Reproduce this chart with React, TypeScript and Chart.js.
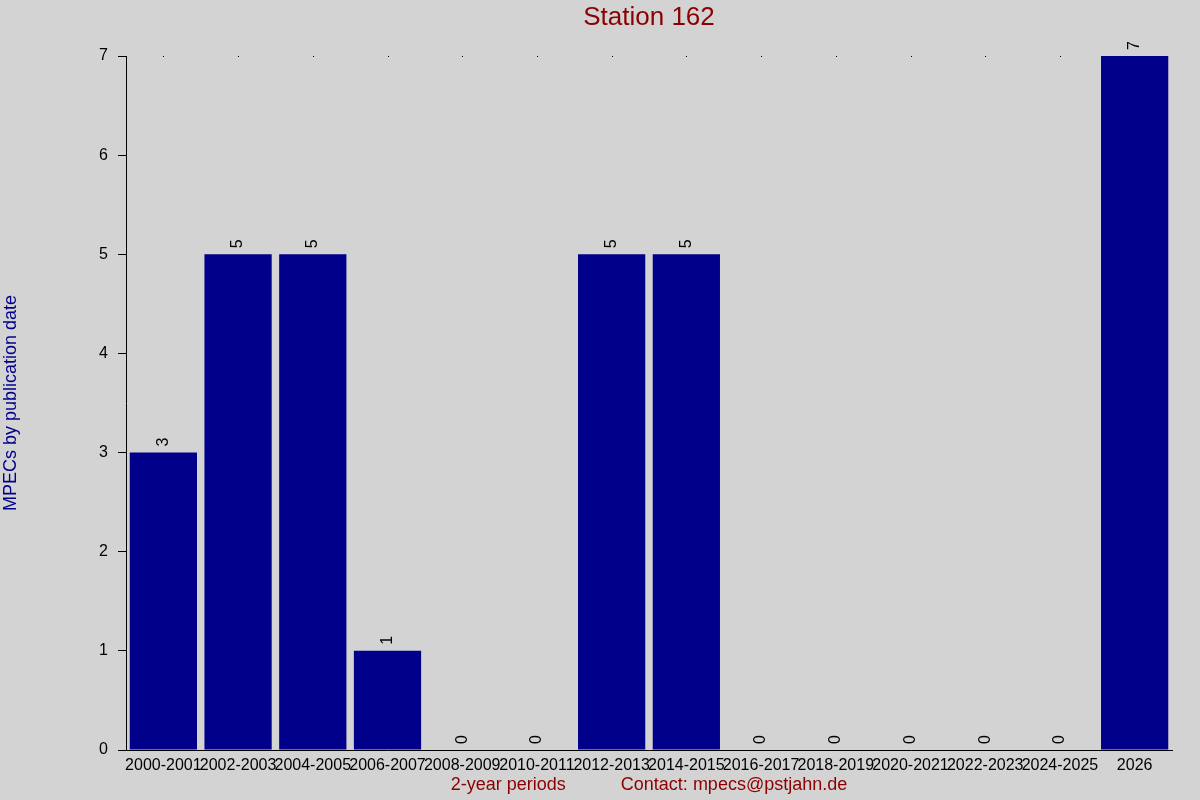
import { useEffect, useRef } from 'react'
import { Chart, registerables, type ChartConfiguration, type Plugin } from 'chart.js'

Chart.register(...registerables)

const periods = [
  '2000-2001', '2002-2003', '2004-2005', '2006-2007', '2008-2009', '2010-2011', '2012-2013',
  '2014-2015', '2016-2017', '2018-2019', '2020-2021', '2022-2023', '2024-2025', '2026',
]
const counts = [3, 5, 5, 1, 0, 0, 5, 5, 0, 0, 0, 0, 0, 7]
const yTicks = [0, 1, 2, 3, 4, 5, 6, 7]

const FONT = '"Liberation Sans", Arial, sans-serif'
const TITLE = 'Station 162'

const bgPlugin: Plugin = {
  id: 'bg',
  beforeDraw: chart => {
    const c = chart.ctx
    c.save()
    c.fillStyle = '#d3d3d3'
    c.fillRect(0, 0, chart.width, chart.height)
    c.restore()
  },
}

// title centred over the plot area, not the whole canvas
const titlePlugin: Plugin = {
  id: 'plotTitle',
  afterDraw: chart => {
    const c = chart.ctx
    const { left, right } = chart.chartArea
    c.save()
    c.fillStyle = '#8b0000'
    c.font = `26px ${FONT}`
    c.textAlign = 'center'
    c.textBaseline = 'middle'
    c.fillText(TITLE, (left + right) / 2, 18)
    c.restore()
  },
}

// little dots along the top edge at each category
const topDots: Plugin = {
  id: 'topDots',
  beforeDatasetsDraw: chart => {
    const c = chart.ctx
    const x = chart.scales.x
    const top = chart.scales.y.getPixelForValue(yTicks[yTicks.length - 1])
    c.save()
    c.fillStyle = '#000'
    periods.forEach((_, i) => {
      c.fillRect(Math.round(x.getPixelForValue(i)), Math.round(top), 1, 1)
    })
    c.restore()
  },
}

const valueLabels: Plugin = {
  id: 'valueLabels',
  afterDatasetsDraw: chart => {
    const c = chart.ctx
    const meta = chart.getDatasetMeta(0)
    c.save()
    c.fillStyle = '#000'
    c.font = `16px ${FONT}`
    c.textAlign = 'left'
    c.textBaseline = 'middle'
    meta.data.forEach((bar, i) => {
      c.save()
      c.translate(bar.x, bar.y - 6)
      c.rotate(-Math.PI / 2)
      c.fillText(String(counts[i]), 0, 0)
      c.restore()
    })
    c.restore()
  },
}

function StationChart() {
  const ref = useRef<HTMLCanvasElement>(null)
  const chartRef = useRef<Chart | null>(null)
  useEffect(() => {
    document.body.style.margin = '0'
    if (!ref.current) return
    chartRef.current?.destroy()
    const config: ChartConfiguration = {
      type: 'bar',
      data: {
        labels: periods,
        datasets: [{
          data: counts,
          backgroundColor: '#00008b',
          barPercentage: 0.9,
          categoryPercentage: 1,
        }],
      },
      options: {
        responsive: false,
        animation: false,
        layout: { padding: { left: 0, right: 28, top: 56, bottom: 0 } },
        plugins: {
          legend: { display: false },
          tooltip: { enabled: false },
          title: { display: false },
        },
        scales: {
          x: {
            grid: { display: false, drawTicks: false },
            border: { display: true, color: '#000', width: 1 },
            ticks: {
              color: '#000', font: { family: FONT, size: 16 }, padding: 6,
              maxRotation: 0, minRotation: 0, autoSkip: false,
            },
            title: {
              display: true,
              text: '2-year periods           Contact: mpecs@pstjahn.de',
              color: '#8b0000',
              font: { family: FONT, size: 18 },
              padding: { top: 0, bottom: 4 },
            },
            afterFit: s => { s.height = 50 },
          },
          y: {
            min: 0,
            max: 7,
            grid: { drawOnChartArea: false, drawTicks: true, tickLength: 8, color: '#000' },
            border: { display: true, color: '#000', width: 1 },
            ticks: { stepSize: 1, color: '#000', font: { family: FONT, size: 16 }, padding: 10 },
            title: {
              display: true,
              text: 'MPECs by publication date',
              color: '#00008b',
              font: { family: FONT, size: 18 },
              padding: { top: 0, bottom: 0 },
            },
            afterFit: s => { s.width = 126 },
          },
        },
      },
      plugins: [bgPlugin, topDots, valueLabels, titlePlugin],
    }
    chartRef.current = new Chart(ref.current, config)
    return () => chartRef.current?.destroy()
  }, [])
  return <canvas ref={ref} width={1200} height={800} style={{ display: 'block', width: 1200, height: 800 }} />
}

export default function App() {
  return <StationChart />
}
